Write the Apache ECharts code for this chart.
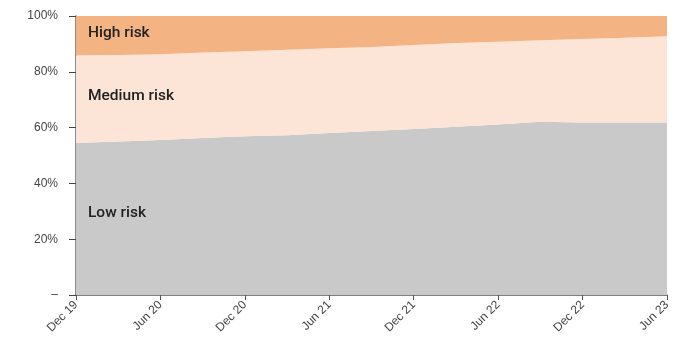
<!DOCTYPE html>
<html>
<head>
<meta charset="utf-8">
<style>
  html, body { margin: 0; padding: 0; background: #fff; }
  #chart { width: 689px; height: 344px; }
</style>
<script src="https://cdn.jsdelivr.net/npm/echarts@6/dist/echarts.min.js"></script>
</head>
<body>
<div id="chart"></div>
<script>
// Quarterly share of the portfolio by risk band (% of total)
const quarters = ['Dec 19', 'Mar 20', 'Jun 20', 'Sep 20', 'Dec 20', 'Mar 21', 'Jun 21',
  'Sep 21', 'Dec 21', 'Mar 22', 'Jun 22', 'Sep 22', 'Dec 22', 'Mar 23', 'Jun 23'];
const lowRisk = [54.5, 55.0, 55.6, 56.3, 56.9, 57.3, 58.1, 58.8, 59.5, 60.3, 61.1, 62.1, 61.8, 61.8, 61.8];
const mediumRisk = [31.4, 31.0, 30.7, 30.6, 30.5, 30.6, 30.3, 30.1, 30.1, 30.0, 29.7, 29.2, 30.0, 30.4, 30.9];
const highRisk = [14.1, 14.0, 13.7, 13.1, 12.6, 12.1, 11.6, 11.1, 10.4, 9.7, 9.2, 8.7, 8.2, 7.8, 7.3];
const yTicks = [0, 20, 40, 60, 80, 100];

const FONT = '"Liberation Sans", Arial, Helvetica, sans-serif';
const LABEL_FONT = '500 15.5px Roboto, "Liberation Sans", Arial, sans-serif';

function band(name, data, color) {
  return {
    name: name,
    type: 'line',
    stack: 'share',
    data: data,
    symbol: 'none',
    lineStyle: { width: 0 },
    areaStyle: { color: color, opacity: 1 },
    emphasis: { disabled: true },
    silent: true
  };
}

const chart = echarts.init(document.getElementById('chart'), null, { renderer: 'canvas' });
chart.setOption({
  animation: false,
  grid: { left: 76, right: 22, top: 16, bottom: 49, containLabel: false },
  xAxis: {
    type: 'category',
    data: quarters,
    boundaryGap: false,
    axisLine: { lineStyle: { color: '#555', width: 1.5 } },
    axisTick: { interval: 1, length: 5, lineStyle: { color: '#555' } },
    axisLabel: {
      interval: 1, rotate: 45, margin: 8,
      color: '#444', fontSize: 12, fontFamily: FONT
    },
    splitLine: { show: false }
  },
  yAxis: {
    type: 'value',
    min: yTicks[0],
    max: yTicks[yTicks.length - 1],
    interval: 20,
    axisLine: { show: true, lineStyle: { color: '#666', width: 1.5 } },
    axisTick: { show: true, length: 7, lineStyle: { color: '#444' } },
    axisLabel: {
      margin: 18, color: '#444', fontSize: 12, fontFamily: FONT,
      formatter: v => (v === 0 ? '–' : v + '%')
    },
    splitLine: { show: false }
  },
  series: [
    band('Low risk', lowRisk, '#c9c9c9'),
    band('Medium risk', mediumRisk, '#fce4d6'),
    band('High risk', highRisk, '#f4b382')
  ],
  graphic: [
    { type: 'text', left: 88, top: 25, z: 10,
      style: { text: 'High risk', fill: '#222', font: LABEL_FONT } },
    { type: 'text', left: 88, top: 88, z: 10,
      style: { text: 'Medium risk', fill: '#222', font: LABEL_FONT } },
    { type: 'text', left: 88, top: 205, z: 10,
      style: { text: 'Low risk', fill: '#222', font: LABEL_FONT } }
  ]
});
</script>
</body>
</html>
